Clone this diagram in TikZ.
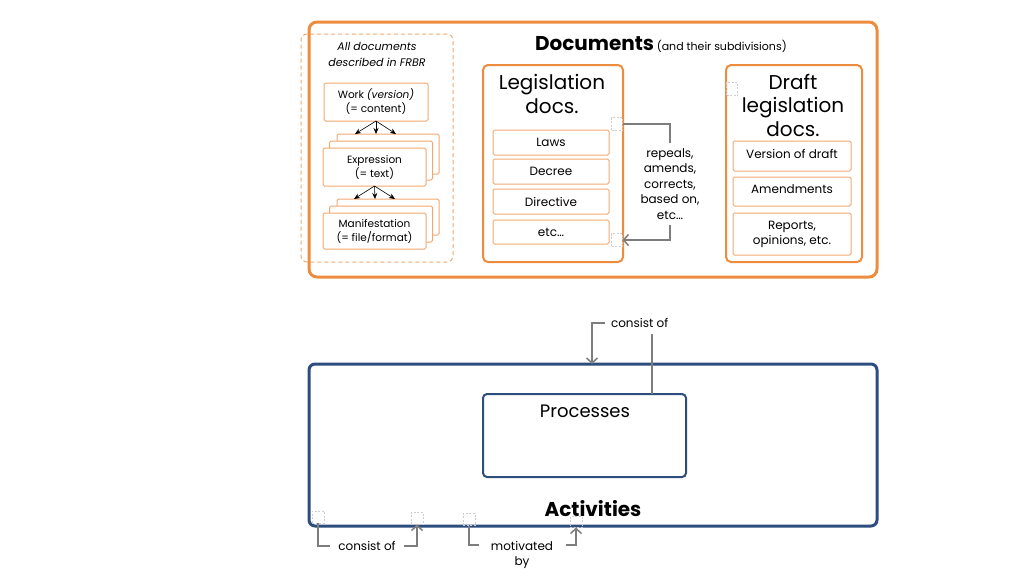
\documentclass[tikz,border=0pt]{standalone}
\usepackage{fontspec}
\setmainfont{Poppins}
\usetikzlibrary{arrows.meta,calc}
\definecolor{org}{RGB}{237,140,62}
\definecolor{orgl}{RGB}{242,168,112}
\definecolor{navy}{RGB}{44,77,125}
\definecolor{connc}{RGB}{125,125,125}
\definecolor{phc}{RGB}{205,205,205}
\begin{document}
\begin{tikzpicture}[x=1pt,y=-1pt,
 every node/.style={inner sep=0pt, outer sep=0pt, text=black},
 bigbox/.style={draw=org, line width=3pt, rounded corners=8pt},
 midbox/.style={draw=org, line width=2pt, rounded corners=5pt},
 smallbox/.style={draw=orgl, line width=1pt, fill=white, rounded corners=1.5pt, align=center, font=\fontsize{10.5}{14}\selectfont},
 itembox/.style={draw=orgl, line width=1pt, rounded corners=1.5pt, align=center, font=\fontsize{12}{15}\selectfont},
 navybig/.style={draw=navy, line width=3pt, rounded corners=6pt},
 navymid/.style={draw=navy, line width=2pt, rounded corners=4pt},
 phbox/.style={draw=phc, dashed, dash pattern=on 2pt off 1.5pt, line width=0.6pt},
 connl/.style={draw=connc, line width=1.5pt},
 openarr/.style={-{Straight Barb[length=5pt,width=11pt,line width=1.5pt]}},
 sarr/.style={-{Stealth[length=6pt,width=5pt]}, draw=black, line width=0.6pt},
 lbl/.style={align=center, font=\fontsize{12}{15.5}\selectfont},
 title/.style={align=center, font=\fontsize{20}{23.5}\selectfont},
]
\useasboundingbox (0,0) rectangle (1024,576);

% ---------- Documents ----------
\node[bigbox, minimum width=568pt, minimum height=255pt] (docs) at (593,149.5) {};
\node[anchor=base west] (docstitle) at (535,50) {{\fontsize{20}{24}\selectfont\bfseries Documents} {\fontsize{11}{13}\selectfont (and their subdivisions)}};

% FRBR dashed box
\node[draw=orgl, dashed, dash pattern=on 4pt off 3pt, line width=1pt, rounded corners=6pt, minimum width=152pt, minimum height=228pt] (frbr) at (377,148) {};
\node[align=center, font=\fontsize{11}{16}\selectfont\itshape] (frbrt) at (377,54) {All documents\\described in FRBR};

\node[smallbox, minimum width=104pt, minimum height=38pt] (work) at (376,102) {Work \textit{(version)}\\(= content)};

\node[smallbox, minimum width=102pt, minimum height=40pt] (exp3) at (388,154) {};
\node[smallbox, minimum width=103pt, minimum height=39pt] (exp2) at (381,160.5) {};
\node[smallbox, minimum width=103pt, minimum height=38pt] (exp) at (374.5,167) {Expression\\(= text)};

\node[smallbox, minimum width=102pt, minimum height=36pt] (man3) at (388,217) {};
\node[smallbox, minimum width=103pt, minimum height=36pt] (man2) at (381,224) {};
\node[smallbox, minimum width=103pt, minimum height=36pt] (man) at (374.5,231) {Manifestation\\(= file/format)};

\coordinate (wa1) at (355,134);
\coordinate (wa2) at (376,134);
\coordinate (wa3) at (396,134);
\draw[sarr] (work.south) -- (wa1);
\draw[sarr] (work.south) -- (wa2);
\draw[sarr] (work.south) -- (wa3);
\coordinate (ea1) at (354,199);
\coordinate (ea2) at (375,199);
\coordinate (ea3) at (395,199);
\draw[sarr] (exp.south) -- (ea1);
\draw[sarr] (exp.south) -- (ea2);
\draw[sarr] (exp.south) -- (ea3);

% Legislation docs
\node[midbox, minimum width=140pt, minimum height=197pt] (leg) at (553,163.5) {};
\node[title] (legt) at (552,94) {Legislation\\docs.};
\node[itembox, minimum width=116pt, minimum height=25pt] (laws) at (551,142.5) {Laws};
\node[itembox, minimum width=116pt, minimum height=25pt] (decree) at (551,171.5) {Decree};
\node[itembox, minimum width=116pt, minimum height=25pt] (directive) at (551,201.5) {Directive};
\node[itembox, minimum width=116pt, minimum height=24pt] (etc) at (551,232) {etc…};

\node[phbox, minimum width=11pt, minimum height=13pt] (ph1) at (617,124) {};
\node[phbox, minimum width=11pt, minimum height=13pt] (ph2) at (617,240) {};
\node[lbl, inner ysep=6pt] (rep) at (670,184) {repeals,\\amends,\\corrects,\\based on,\\etc…};
\draw[connl] (ph1.east) -| (rep.north);
\draw[connl, openarr] (rep.south) |- (ph2.east);

% Draft legislation docs
\node[midbox, minimum width=136pt, minimum height=197pt] (draft) at (794,163.5) {};
\node[title] (draftt) at (793,105) {Draft\\legislation\\docs.};
\node[phbox, minimum width=11pt, minimum height=13pt] (ph3) at (732,89) {};
\node[itembox, minimum width=118pt, minimum height=30pt, text depth=4pt] (vers) at (792,156) {Version of draft};
\node[itembox, minimum width=118pt, minimum height=29pt, text depth=4pt] (amend) at (792,191.5) {Amendments};
\node[itembox, minimum width=118pt, minimum height=42pt] (reports) at (792,234) {Reports,\\opinions, etc.};

% ---------- Activities ----------
\node[navybig, minimum width=568pt, minimum height=162pt] (act) at (593,445) {};
\node[font=\fontsize{20}{24}\selectfont\bfseries] (actt) at (593,509) {Activities};
\node[navymid, minimum width=203pt, minimum height=83pt] (proc) at (584.5,435.5) {};
\node[font=\fontsize{18}{22}\selectfont] (proct) at (585,411) {Processes};

% top "consist of"
\node[lbl, anchor=west, inner xsep=6pt] (cons1) at (605,323) {consist of};
\coordinate (c1a) at (652,334);
\coordinate (c1b) at (592,364);
\draw[connl] (proc.north -| c1a) -- (c1a);
\draw[connl, openarr] (cons1.west) -| (c1b);

% bottom placeholders and connectors
\node[phbox, minimum width=12pt, minimum height=12pt] (phA) at (318,517) {};
\node[phbox, minimum width=12pt, minimum height=12pt] (phB) at (417,518.5) {};
\node[phbox, minimum width=12pt, minimum height=12pt] (phC) at (469,519.5) {};
\node[phbox, minimum width=12pt, minimum height=11pt] (phD) at (576,522) {};

\node[lbl, inner xsep=8pt] (cons2) at (367,546) {consist of};
\draw[connl] (phA.south) |- (cons2.west);
\draw[connl, openarr] (cons2.east) -| (phB.south);

\node[lbl, anchor=north] (motiv) at (522,541) {motivated\\by};
\coordinate (m1) at (479,545);
\coordinate (m2) at (566,545);
\draw[connl] (phC.south) |- (m1);
\draw[connl, openarr] (m2) -| (phD.south);
\end{tikzpicture}
\end{document}
